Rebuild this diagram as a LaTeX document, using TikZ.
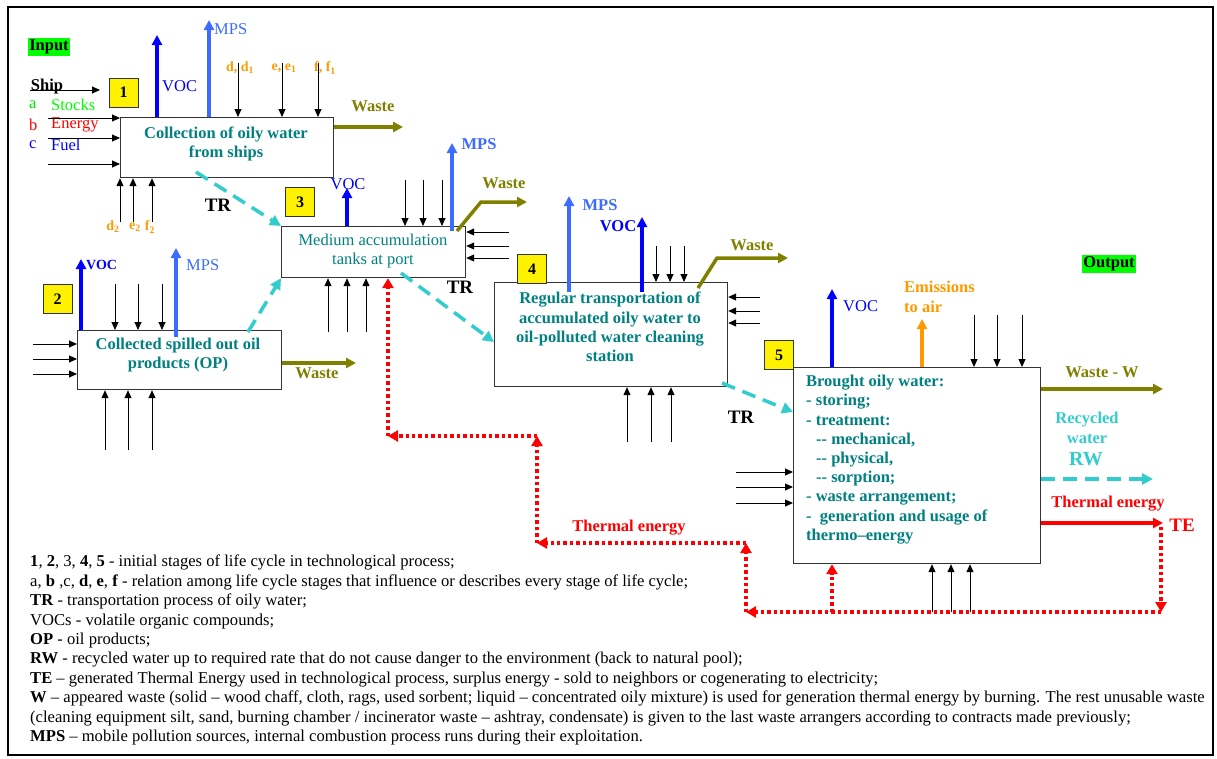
\documentclass[tikz,border=0pt]{standalone}
\usepackage{fontspec}
\setmainfont{Liberation Serif}
\usetikzlibrary{arrows.meta,calc}
\definecolor{tealtxt}{HTML}{008080}
\definecolor{trcol}{HTML}{33CCCC}
\definecolor{vocblue}{HTML}{0000FF}
\definecolor{mpsblue}{HTML}{3D6BFF}
\definecolor{olivec}{HTML}{808000}
\definecolor{orangec}{HTML}{FF9900}
\definecolor{redc}{HTML}{FF0000}
\definecolor{greenc}{HTML}{00FF00}
\begin{document}
\begin{tikzpicture}[x=1pt,y=-1pt,
  every node/.style={font=\fontsize{16.5}{19.5}\selectfont, inner sep=0pt},
  procbox/.style={draw=black!80, line width=1.2pt, anchor=north west},
  numbox/.style={draw=black!80, fill=yellow, line width=1pt, minimum size=29pt, font=\bfseries\fontsize{16}{18}\selectfont},
  boxtxt/.style={text=tealtxt, align=center, font=\bfseries\fontsize{16.5}{19.5}\selectfont},
  lbl/.style={font=\bfseries\fontsize{16.5}{19.5}\selectfont},
  thinarr/.style={draw=black, line width=0.9pt, -{Triangle[length=8pt,width=7pt]}},
  vocarr/.style={draw=vocblue, line width=3.5pt, -{Triangle[length=10pt,width=10pt]}},
  mpsarr/.style={draw=mpsblue, line width=3.5pt, -{Triangle[length=10pt,width=10pt]}},
  wastearr/.style={draw=olivec, line width=3.5pt, -{Triangle[length=10pt,width=10pt]}},
  orarr/.style={draw=orangec, line width=3.5pt, -{Triangle[length=10pt,width=10pt]}},
  trarr/.style={draw=trcol, line width=3.5pt, dash pattern=on 14pt off 8pt, -{Triangle[length=11pt,width=11pt]}},
  thermarr/.style={draw=redc, line width=3.4pt, dash pattern=on 3.4pt off 3pt, -{Triangle[length=10pt,width=11pt]}},
  tearr/.style={draw=redc, line width=3.5pt, -{Triangle[length=10pt,width=10pt]}}
]
\useasboundingbox (0,0) rectangle (1217,758);
\draw[line width=1.2pt] (8,7) rectangle (1213,755);

% ---------- Input / output tags
\node[lbl, fill=greenc, inner sep=1.5pt] (inputlbl) at (49,47) {Input};
\node[lbl, fill=greenc, inner sep=1.5pt] (outputlbl) at (1109,264) {Output};

% ---------- boxes
\node[procbox, minimum width=213pt, minimum height=60pt] (b1) at (120,117) {};
\node[procbox, minimum width=184pt, minimum height=51pt] (b3) at (281,226) {};
\node[procbox, minimum width=204pt, minimum height=59pt] (b2) at (77,330) {};
\node[procbox, minimum width=233pt, minimum height=104pt] (b4) at (494,282) {};
\node[procbox, minimum width=247pt, minimum height=196pt] (b5) at (793,367) {};

\node[numbox] (n1) at (123.5,92.5) {1};
\node[numbox] (n3) at (300,202) {3};
\node[numbox] (n2) at (57.5,299) {2};
\node[numbox] (n4) at (532,269) {4};
\node[numbox] (n5) at (779,355) {5};

\node[boxtxt] (t1) at (226,144) {Collection of oily water\\from ships};
\node[boxtxt, font=\fontsize{16.5}{19}\selectfont] (t3) at (373,251) {Medium accumulation\\tanks at port};
\node[boxtxt] (t2) at (178,355) {Collected spilled out oil\\products (OP)};
\node[boxtxt, font=\bfseries\fontsize{16.5}{19.3}\selectfont] (t4) at (610,327) {Regular transportation of\\accumulated oily water to\\oil-polluted water cleaning\\station};
\node[boxtxt, align=left, anchor=north west, font=\bfseries\fontsize{16.5}{19.2}\selectfont] (t5) at (806,375)
 {Brought oily water:\\- storing;\\- treatment:\\\hspace*{10pt}-{}- mechanical,\\\hspace*{10pt}-{}- physical,\\\hspace*{10pt}-{}- sorption;\\- waste arrangement;\\- \ generation and usage of\\thermo--energy};

% ---------- Ship and input labels
\node[lbl] (ship) at (47,87) {Ship};
\coordinate (shipS) at (30,90);
\draw[thinarr] (shipS) -- (100,90);
\node[text=greenc!90!black, anchor=west] (la) at (29,105) {a};
\node[text=greenc, anchor=west] (stocks) at (51,105) {Stocks};
\node[text=redc, anchor=west] (lb) at (29,125) {b};
\node[text=redc, anchor=west] (energy) at (51,125) {Energy};
\node[text=vocblue, anchor=west] (lc) at (29,145) {c};
\node[text=vocblue, anchor=west] (fuel) at (51,145) {Fuel};

% ---------- box 1
\foreach \y in {118,138,164} \draw[thinarr] (48,\y) -- (b1.west |- 0,\y);
\draw[vocarr] (b1.north -| 157,0) -- (157,35);
\node[text=vocblue, anchor=west] (voc1) at (162,86) {VOC};
\draw[mpsarr] (b1.north -| 209,0) -- (209,20);
\node[text=mpsblue, anchor=west] (mps1) at (214,29) {MPS};
\node[lbl, text=orangec, font=\bfseries\fontsize{14}{16}\selectfont] (dd) at (240,68) {d, d$_{\mathbf 1}$};
\node[lbl, text=orangec, font=\bfseries\fontsize{14}{16}\selectfont] (ee) at (284,68) {e, e$_{\mathbf 1}$};
\node[lbl, text=orangec, font=\bfseries\fontsize{14}{16}\selectfont] (ff) at (325,68) {f, f$_{\mathbf 1}$};
\foreach \x in {238,282,318} \draw[thinarr] (\x,63) -- (b1.north -| \x,0);
\foreach \x in {120,133,152} \draw[thinarr] (\x,222) -- (b1.south -| \x,0);
\node[lbl, text=orangec, font=\bfseries\fontsize{14}{16}\selectfont] (d2) at (113,227) {d$_{\mathbf 2}$};
\node[lbl, text=orangec, font=\bfseries\fontsize{14}{16}\selectfont] (e2) at (135,227) {e$_{\mathbf 2}$};
\node[lbl, text=orangec, font=\bfseries\fontsize{14}{16}\selectfont] (f2) at (150,227) {f$_{\mathbf 2}$};
\draw[wastearr] (b1.east |- 0,127) -- (403,127);
\node[lbl, text=olivec] (w1) at (373,106) {Waste};

% ---------- TR links
\node[lbl, font=\bfseries\fontsize{19}{21}\selectfont] (tr1) at (218,205) {TR};
\draw[trarr] (196,172) -- (b3.north west);
\draw[trarr] (248,332) -- (b3.south west);
\node[lbl, font=\bfseries\fontsize{19}{21}\selectfont] (tr2) at (460,287) {TR};
\draw[trarr] (401,273) -- (b4.west |- 0,342);
\node[lbl, font=\bfseries\fontsize{19}{21}\selectfont] (tr3) at (741,417) {TR};
\draw[trarr] (722,383) -- (b5.west |- 0,412);

% ---------- box 3
\draw[vocarr] (b3.north -| 347,0) -- (347,188);
\node[text=vocblue] (voc3) at (348,184) {VOC};
\foreach \x in {405,423,442} \draw[thinarr] (\x,180) -- (b3.north -| \x,0);
\draw[mpsarr] (452,231) -- (452,143);
\node[lbl, text=mpsblue] (mps3) at (479,144) {MPS};
\draw[draw=olivec, line width=3.5pt, -{Triangle[length=10pt,width=10pt]}] (457,231) -- (481,202) -- (527,202);
\node[lbl, text=olivec] (w3) at (504,183) {Waste};
\foreach \y in {232,246,258} \draw[thinarr] (509,\y) -- (b3.east |- 0,\y);
\foreach \x in {328,347,366} \draw[thinarr] (\x,332) -- (b3.south -| \x,0);

% ---------- box 2
\draw[vocarr] (b2.north -| 81,0) -- (81,259);
\node[lbl, text=vocblue, font=\bfseries\fontsize{14}{16}\selectfont, anchor=west] (voc2) at (86,265) {VOC};
\foreach \x in {115,138,162} \draw[thinarr] (\x,284) -- (b2.north -| \x,0);
\draw[mpsarr] (176,337) -- (176,248);
\node[text=mpsblue, anchor=west] (mps2) at (186,265) {MPS};
\foreach \y in {344,359,374} \draw[thinarr] (33,\y) -- (b2.west |- 0,\y);
\foreach \x in {105,128,152} \draw[thinarr] (\x,450) -- (b2.south -| \x,0);
\draw[wastearr] (b2.east |- 0,363) -- (356,363);
\node[lbl, text=olivec] (w2) at (317,373) {Waste};

% ---------- box 4
\draw[mpsarr] (569,292) -- (569,196);
\node[lbl, text=mpsblue] (mps4) at (600,205) {MPS};
\draw[vocarr] (642,292) -- (642,217);
\node[lbl, text=vocblue] (voc4) at (618,226) {VOC};
\foreach \x in {656,670,684} \draw[thinarr] (\x,246) -- (b4.north -| \x,0);
\draw[draw=olivec, line width=3.5pt, -{Triangle[length=10pt,width=10pt]}] (698,288) -- (717,258) -- (788,258);
\node[lbl, text=olivec] (w4) at (752,245) {Waste};
\foreach \y in {297,311,323} \draw[thinarr] (760,\y) -- (b4.east |- 0,\y);
\foreach \x in {627,651,671} \draw[thinarr] (\x,442) -- (b4.south -| \x,0);

% ---------- box 5
\draw[vocarr] (b5.north -| 832,0) -- (832,289);
\node[text=vocblue, anchor=west] (voc5) at (843,306) {VOC};
\draw[orarr] (b5.north -| 922,0) -- (922,319);
\node[lbl, text=orangec, align=left, anchor=west] (emis) at (904,297) {Emissions\\to air};
\foreach \x in {974,997,1022} \draw[thinarr] (\x,315) -- (b5.north -| \x,0);
\foreach \y in {472,487,503} \draw[thinarr] (736,\y) -- (b5.west |- 0,\y);
\foreach \x in {932,951,970} \draw[thinarr] (\x,612) -- (b5.south -| \x,0);
\draw[wastearr] (b5.east |- 0,389) -- (1163,389);
\node[lbl, text=olivec] (w5) at (1102,372) {Waste - W};
\node[lbl, text=trcol, align=center] (rw) at (1087,428) {Recycled\\water};
\node[lbl, text=trcol, font=\bfseries\fontsize{20}{22}\selectfont] (rwlbl) at (1086,459) {RW};
\draw[trarr] (b5.east |- 0,479) -- (1153,479);
\node[lbl, text=redc] (th2) at (1108,504) {Thermal energy};
\draw[tearr] (b5.east |- 0,523) -- (1163,523);
\node[lbl, text=redc, font=\bfseries\fontsize{19}{21}\selectfont] (te) at (1182,525) {TE};

% ---------- thermal energy dotted network
\coordinate (c1) at (1161,527);
\coordinate (c2) at (1161,612);
\coordinate (c3) at (746,612);
\coordinate (c4) at (746,543);
\coordinate (c5) at (537,543);
\coordinate (c6) at (537,436);
\coordinate (c7) at (388,436);
\draw[thermarr] (c1) -- (c2);
\draw[thermarr] (c2) -- (c3);
\draw[thermarr] (c3 -| 832,0) -- (b5.south -| 832,0);
\draw[thermarr] (c3) -- (c4);
\draw[thermarr] (c4) -- (c5);
\draw[thermarr] (c5) -- (c6);
\draw[thermarr] (c6) -- (c7);
\draw[thermarr] (c7) -- (b3.south -| 388,0);
\node[lbl, text=redc] (th1) at (629,528) {Thermal energy};

% ---------- legend
\node[anchor=north west, align=left, font=\fontsize{16.6}{19.4}\selectfont] (legend) at (30,555) {%
\textbf{1}, \textbf{2}, 3, \textbf{4}, \textbf{5} - initial stages of life cycle in technological process;\\
a, \textbf{b} ,c, \textbf{d}, \textbf{e}, \textbf{f} - relation among life cycle stages that influence or describes every stage of life cycle;\\
\textbf{TR} - transportation process of oily water;\\
VOCs - volatile organic compounds;\\
\textbf{OP} - oil products;\\
\textbf{RW} - recycled water up to required rate that do not cause danger to the environment (back to natural pool);\\
\textbf{TE} -- generated Thermal Energy used in technological process, surplus energy - sold to neighbors or cogenerating to electricity;\\
\textbf{W} -- appeared waste (solid -- wood chaff, cloth, rags, used sorbent; liquid -- concentrated oily mixture) is used for generation thermal energy by burning. The rest unusable waste\\
(cleaning equipment silt, sand, burning chamber / incinerator waste -- ashtray, condensate) is given to the last waste arrangers according to contracts made previously;\\
\textbf{MPS} -- mobile pollution sources, internal combustion process runs during their exploitation.};
\end{tikzpicture}
\end{document}
